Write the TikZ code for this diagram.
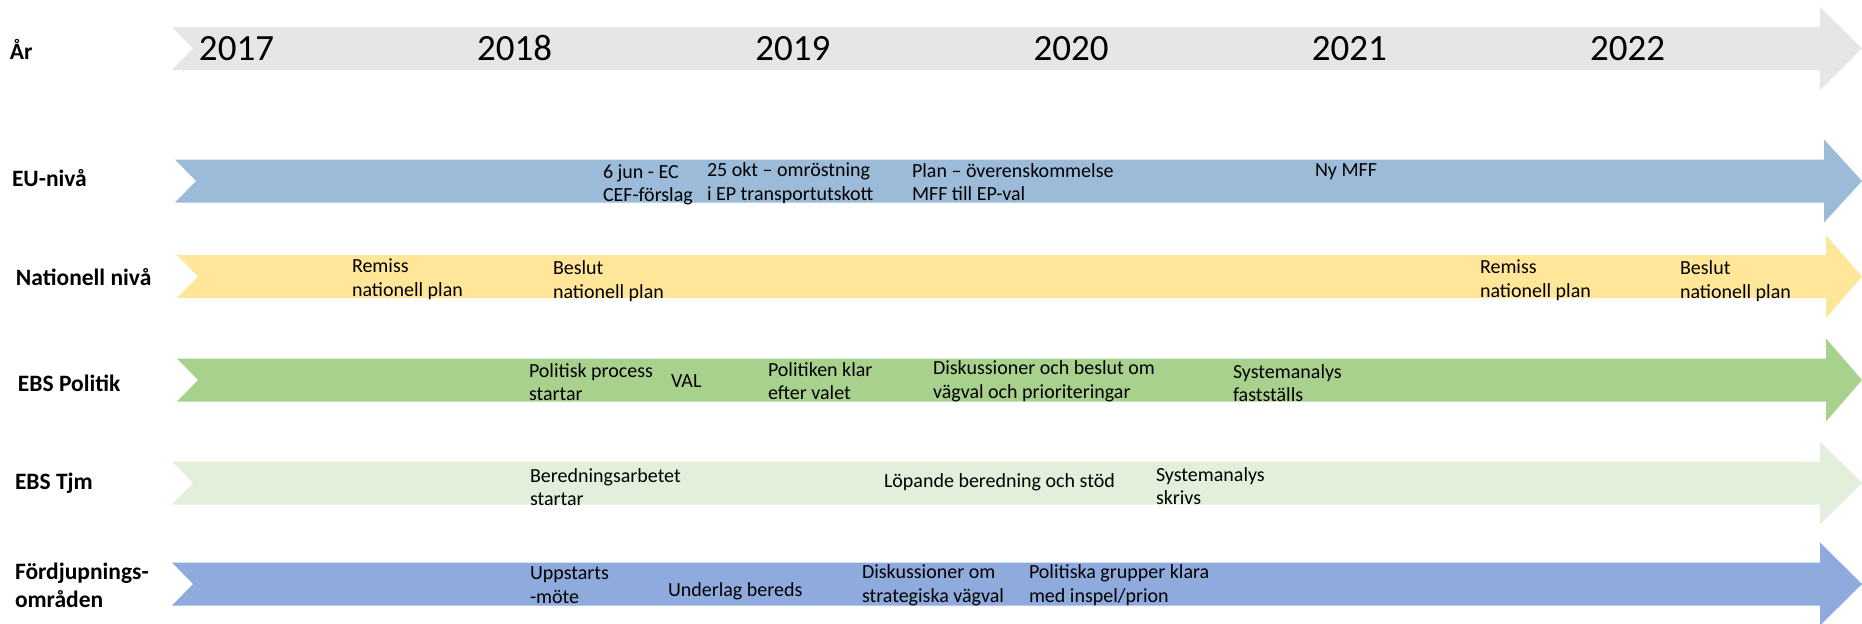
\documentclass[tikz,border=0pt]{standalone}
\usepackage{fontspec}
\setmainfont{Carlito}
\usepackage{tikz}
\usetikzlibrary{positioning}
\definecolor{yeargray}{HTML}{E6E6E6}
\definecolor{eublue}{HTML}{9BBBD9}
\definecolor{natyellow}{HTML}{FFE699}
\definecolor{polgreen}{HTML}{A9D18E}
\definecolor{tjmgreen}{HTML}{E2EFDA}
\definecolor{fordblue}{HTML}{8FAADC}

\begin{document}
\begin{tikzpicture}[x=0.5pt, y=-0.5pt,
  every node/.style={inner sep=0pt, outer sep=0pt},
  rowlbl/.style={anchor=west, align=left, font=\fontsize{11.75}{14}\selectfont\bfseries},
  yearlbl/.style={anchor=base, font=\fontsize{18.5}{22}\selectfont},
  event/.style={anchor=west, align=left, font=\fontsize{10}{11.8}\selectfont}]
  \useasboundingbox (0,0) rectangle (1862,623);

  % band arrows: centre y / tail x / head base x / colour
  \foreach \yc/\xl/\xh/\col in {48.5/172/1820/yeargray, 181/175/1824/eublue,
      276.5/177/1826/natyellow, 380/177/1826/polgreen,
      483/172/1820/tjmgreen, 584/172/1820/fordblue}
    \fill[\col] (\xl,\yc-21.5) -- (\xh,\yc-21.5) -- (\xh,\yc-41.5) -- (1862,\yc)
      -- (\xh,\yc+41.5) -- (\xh,\yc+21.5) -- (\xl,\yc+21.5) -- (\xl+21,\yc) -- cycle;

  % years
  \foreach \yr [count=\i from 0] in {2017,...,2022}
    \node[yearlbl] (y\yr) at (236.5+278.2*\i,60) {\yr};

  % row labels
  \node[rowlbl] (lAr)   at (10,49)   {År};
  \node[rowlbl] (lEU)   at (12,178)  {EU-nivå};
  \node[rowlbl] (lNat)  at (16,277)  {Nationell nivå};
  \node[rowlbl] (lPol)  at (18,383)  {EBS Politik};
  \node[rowlbl] (lTjm)  at (15,483)  {EBS Tjm};
  \node[rowlbl] (lFord) at (15,585)  {Fördjupnings-\\områden};

  % EU-niva
  \node[event] (euCEF)  at (603,185)  {6 jun - EC\\CEF-förslag};
  \node[event] (euVote) at (707,183)  {25 okt – omröstning\\i EP transportutskott};
  \node[event] (euPlan) at (912,182)  {Plan – överenskommelse\\MFF till EP-val};
  \node[event] (euMFF)  at (1315,172) {Ny MFF};

  % Nationell niva
  \node[event] (natRemA)  at (352,279)  {Remiss\\nationell plan};
  \node[event] (natBesA)  at (553,281)  {Beslut\\nationell plan};
  \node[event] (natRemB)  at (1480,280) {Remiss\\nationell plan};
  \node[event] (natBesB)  at (1680,281) {Beslut\\nationell plan};

  % EBS Politik
  \node[event] (polStart) at (529,382)  {Politisk process\\startar};
  \node[event] (polVal)   at (671,381)  {VAL};
  \node[event] (polKlar)  at (768,381)  {Politiken klar\\efter valet};
  \node[event] (polDisk)  at (933,381)  {Diskussioner och beslut om\\vägval och prioriteringar};
  \node[event] (polSys)   at (1233,383) {Systemanalys\\fastställs};

  % EBS Tjm
  \node[event] (tjmStart) at (530,487)  {Beredningsarbetet\\startar};
  \node[event] (tjmLop)   at (884,482)  {Löpande beredning och stöd};
  \node[event] (tjmSys)   at (1156,486) {Systemanalys\\skrivs};

  % Fordjupningsomraden
  \node[event] (fUpp)   at (530,585)  {Uppstarts\\-möte};
  \node[event] (fUnd)   at (668,591)  {Underlag bereds};
  \node[event] (fDisk)  at (862,585)  {Diskussioner om\\strategiska vägval};
  \node[event] (fGrp)   at (1029,585) {Politiska grupper klara\\med inspel/prion};
\end{tikzpicture}
\end{document}
